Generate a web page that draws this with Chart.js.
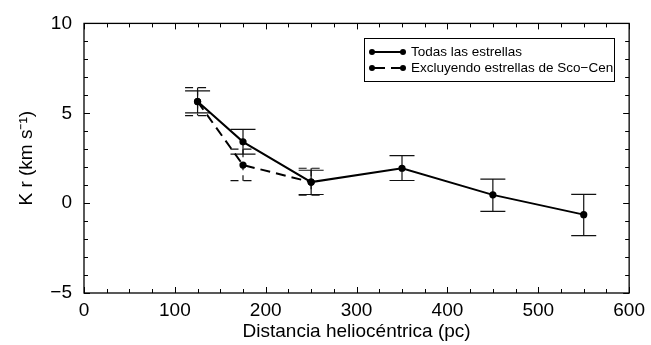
<!DOCTYPE html>
<html>
<head>
<meta charset="utf-8">
<script src="https://cdn.jsdelivr.net/npm/chart.js@4.4.0/dist/chart.umd.min.js"></script>
<style>
html,body{margin:0;padding:0;background:#fff}
canvas{display:block}
</style>
</head>
<body>
<canvas id="c" width="651" height="345"></canvas>
<script>
// ---------- data ----------
const DIST = [125,175,250,350,450,550];               // pc
const KR_TODAS = [5.65,3.41,1.17,1.94,0.46,-0.64];
const TODAS_HI = [6.25,4.10,1.83,2.64,1.34,0.49];
const TODAS_LO = [5.02,2.73,0.48,1.26,-0.46,-1.81];

const DIST_EXCL = [125,175,250];
const KR_EXCL = [5.65,2.12,1.17];
const EXCL_HI = [6.43,3.00,1.94];
const EXCL_LO = [4.87,1.25,0.44];

const X_TICKS = [0,100,200,300,400,500,600];
const Y_TICKS = [-5,0,5,10];
const LABELS = ["Todas las estrellas","Excluyendo estrellas de Sco\u2212Cen"];

// ---------- helpers ----------
const pts = (xs,ys) => xs.map((x,i)=>({x,y:ys[i]}));
const minus = v => String(v).replace("-","\u2212");
Chart.defaults.font.family = "'Liberation Sans', Arial, Helvetica, sans-serif";
Chart.defaults.color = "#000";

// frame with inward ticks on all 4 sides
const frame = {
  id:"frame",
  afterDraw(chart){
    const {ctx,chartArea:a,scales:{x,y}} = chart;
    ctx.save();
    ctx.strokeStyle="#000";ctx.lineWidth=1.3;
    ctx.strokeRect(a.left,a.top,a.right-a.left,a.bottom-a.top);
    ctx.lineWidth=1;
    ctx.beginPath();
    for(let v=0;v<=600;v+=25){
      const px=Math.round(x.getPixelForValue(v))+0.5, L=(v%100===0)?6:4;
      ctx.moveTo(px,a.bottom);ctx.lineTo(px,a.bottom-L);
      ctx.moveTo(px,a.top);ctx.lineTo(px,a.top+L);
    }
    for(let v=-5;v<=10;v++){
      const py=Math.round(y.getPixelForValue(v))+0.5, L=(v%5===0)?6:4;
      ctx.moveTo(a.left,py);ctx.lineTo(a.left+L,py);
      ctx.moveTo(a.right,py);ctx.lineTo(a.right-L,py);
    }
    ctx.stroke();
    ctx.restore();
  }
};

// vertical error bars with caps
const errorBars = {
  id:"errorBars",
  beforeDatasetsDraw(chart){
    const {ctx,scales:{x,y}} = chart;
    ctx.save();
    chart.data.datasets.forEach(ds=>{
      ctx.strokeStyle="#111";ctx.lineWidth=1.2;
      ctx.setLineDash(ds.borderDash&&ds.borderDash.length?[8,5]:[]);
      ds.data.forEach((p,i)=>{
        const px=x.getPixelForValue(p.x);
        const yh=y.getPixelForValue(ds.errHi[i]), yl=y.getPixelForValue(ds.errLo[i]);
        ctx.beginPath();
        ctx.moveTo(px,yh);ctx.lineTo(px,yl);
        ctx.moveTo(px-12.5,yh);ctx.lineTo(px+12.5,yh);
        ctx.moveTo(px-12.5,yl);ctx.lineTo(px+12.5,yl);
        ctx.stroke();
      });
    });
    ctx.restore();
  }
};

// boxed legend, line sample with a dot at each end
const boxLegend = {
  id:"boxLegend",
  afterDraw(chart){
    const ctx=chart.ctx;
    const bx=364,by=38,bw=250,bh=43;
    ctx.save();
    ctx.strokeStyle="#000";ctx.lineWidth=1;
    ctx.strokeRect(bx+0.5,by+0.5,bw,bh);
    ctx.font="13.5px 'Liberation Sans', Arial, sans-serif";
    ctx.fillStyle="#000";ctx.textBaseline="middle";
    chart.data.datasets.forEach((ds,i)=>{
      const ly=by+14+i*16, x0=bx+8, x1=bx+39;
      ctx.lineWidth=2;
      ctx.setLineDash(ds.borderDash?[13,6]:[]);
      ctx.beginPath();ctx.moveTo(x0,ly);ctx.lineTo(x1,ly);ctx.stroke();
      ctx.setLineDash([]);
      [x0,x1].forEach(px=>{ctx.beginPath();ctx.arc(px,ly,3,0,Math.PI*2);ctx.fill();});
      ctx.fillText(ds.label,bx+47,ly+0.5);
    });
    ctx.restore();
  }
};

new Chart(document.getElementById("c"),{
  type:"scatter",
  data:{datasets:[
    {label:LABELS[0],data:pts(DIST,KR_TODAS),errHi:TODAS_HI,errLo:TODAS_LO,
     showLine:true,borderColor:"#000",backgroundColor:"#000",borderWidth:2,
     pointRadius:3.6,pointBorderWidth:0},
    {label:LABELS[1],data:pts(DIST_EXCL,KR_EXCL),errHi:EXCL_HI,errLo:EXCL_LO,
     showLine:true,borderColor:"#000",backgroundColor:"#000",borderWidth:2,borderDash:[10,6],
     pointRadius:3.6,pointBorderWidth:0}
  ]},
  options:{
    responsive:false,animation:false,
    layout:{padding:{top:20,right:20,left:0,bottom:0}},
    plugins:{legend:{display:false},tooltip:{enabled:false}},
    scales:{
      x:{type:"linear",min:0,max:600,
        grid:{display:false,drawTicks:false},border:{display:false},
        afterBuildTicks:s=>{s.ticks=X_TICKS.map(v=>({value:v}));},
        afterFit:s=>{s.height=52;},
        ticks:{font:{size:19},color:"#000",padding:6,maxRotation:0,callback:v=>minus(v)},
        title:{display:true,text:"Distancia helioc\u00e9ntrica (pc)",font:{size:19},color:"#000",padding:{top:0,bottom:2}}},
      y:{type:"linear",min:-5,max:10,
        grid:{display:false,drawTicks:false},border:{display:false},
        afterBuildTicks:s=>{s.ticks=Y_TICKS.map(v=>({value:v}));},
        afterFit:s=>{s.width=84;},
        ticks:{font:{size:19},color:"#000",padding:12,callback:v=>minus(v)},
        title:{display:true,text:"K r (km s\u207b\u00b9)",font:{size:19},color:"#000",padding:{top:15,bottom:0}}}
    }
  },
  plugins:[frame,errorBars,boxLegend]
});
</script>
</body>
</html>
